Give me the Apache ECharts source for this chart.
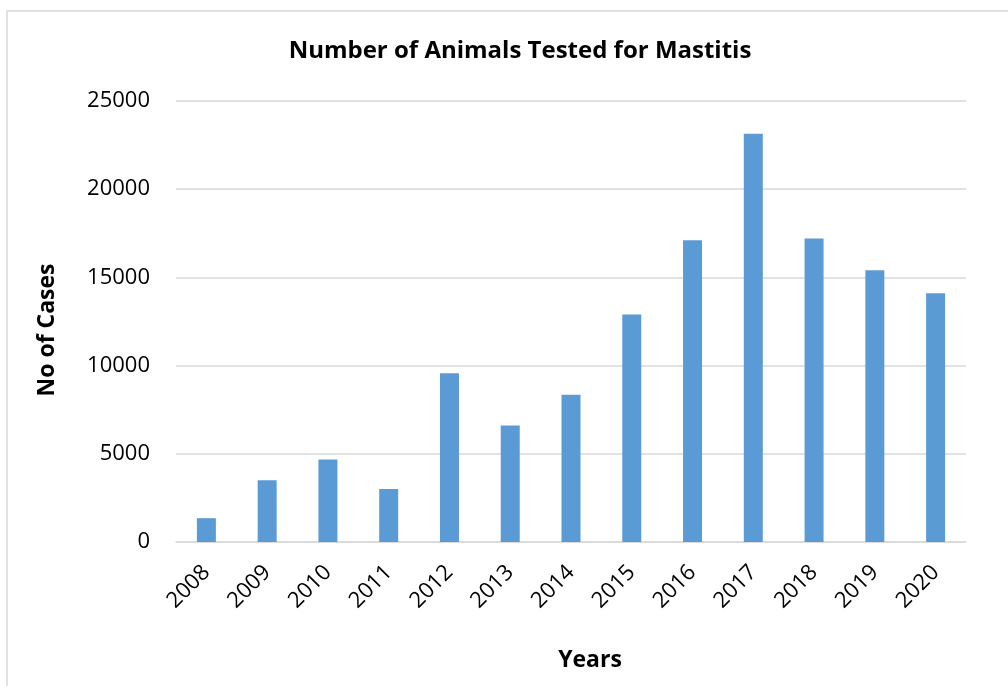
<!DOCTYPE html>
<html>
<head>
<meta charset="utf-8">
<script src="https://cdn.jsdelivr.net/npm/echarts@6/dist/echarts.min.js"></script>
<style>html,body{margin:0;padding:0;background:#fff}#c{width:1008px;height:686px}</style>
</head>
<body>
<div id="c"></div>
<script>
const years = ['2008','2009','2010','2011','2012','2013','2014','2015','2016','2017','2018','2019','2020'];
const cases = [1350, 3500, 4670, 3000, 9560, 6600, 8350, 12900, 17100, 23150, 17200, 15400, 14100];
const titleText = 'Number of Animals Tested for Mastitis';
const xTitle = 'Years';
const yTitle = 'No of Cases';
const FONT = '"Open Sans", sans-serif';

const chart = echarts.init(document.getElementById('c'));
chart.setOption({
  backgroundColor: '#fff',
  animation: false,
  title: {
    text: titleText, left: 515, top: 34, textAlign: 'center',
    textStyle: {fontFamily: FONT, fontSize: 24, fontWeight: 'bold', color: '#000'}
  },
  graphic: [
    {type: 'rect', shape: {x: 7, y: 11, width: 1010, height: 690}, style: {fill: 'none', stroke: '#d9d9d9', lineWidth: 1.5}, silent: true},
    {type: 'text', x: 590, y: 660, style: {text: xTitle, textAlign: 'center', textVerticalAlign: 'middle', font: 'bold 23px ' + FONT, fill: '#000'}},
    {type: 'text', rotation: Math.PI / 2, x: 47, y: 330, style: {text: yTitle, textAlign: 'center', textVerticalAlign: 'middle', font: 'bold 23px ' + FONT, fill: '#000'}}
  ],
  grid: {left: 176, right: 42, top: 101, bottom: 144},
  xAxis: {
    type: 'category', data: years,
    axisLine: {lineStyle: {color: '#d9d9d9', width: 1.5}},
    axisTick: {show: false},
    axisLabel: {rotate: 45, margin: 27, fontFamily: FONT, fontSize: 22, color: '#000'}
  },
  yAxis: {
    type: 'value', min: 0, max: 25000, interval: 5000,
    axisLine: {show: false}, axisTick: {show: false},
    splitLine: {lineStyle: {color: '#d9d9d9', width: 1.5}},
    axisLabel: {margin: 26, fontFamily: FONT, fontSize: 22, color: '#000', formatter: v => String(v)}
  },
  series: [{
    type: 'bar', data: cases, barWidth: 19,
    itemStyle: {color: '#5b9bd5'}
  }]
});
</script>
</body>
</html>
